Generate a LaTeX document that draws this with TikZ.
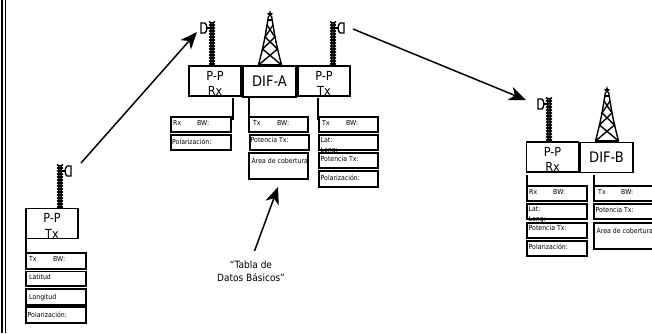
\documentclass[tikz,border=0pt]{standalone}
\usepackage{fontspec}
\setmainfont[FakeStretch=0.9]{DejaVu Sans}
\usetikzlibrary{arrows.meta}
\newcommand{\lifted}{\rule{0pt}{13.5pt}}
\tikzset{
 x=1pt,y=-1pt,
 mainbox/.style={draw,line width=1.5pt,outer sep=0pt,minimum width=52pt,minimum height=30pt,inner sep=0pt,font=\fontsize{12.5}{15.5}\selectfont,align=center},
 difbox/.style={mainbox,font=\fontsize{14.5}{16}\selectfont},
 tabbox/.style={draw,line width=1.5pt,outer sep=0pt,anchor=north west,minimum width=59pt,minimum height=15pt,inner sep=0pt},
 tabtext/.style={anchor=north west,inner sep=0pt,font=\fontsize{6.9}{7}\selectfont},
 twolines/.style={tabtext,align=left,font=\fontsize{6.9}{10}\selectfont},
 stub/.style={line width=1.5pt},
 bigarrow/.style={line width=1.5pt,-{Stealth[length=17pt,width=14pt,inset=5pt]}},
 caption/.style={font=\fontsize{10}{13.5}\selectfont,align=center},
}
\newcommand{\mastR}[3]{% x, ytop, ybottom: mast
 \fill (#1-2.2,#2) rectangle (#1+2.2,#3);
 \foreach \i in {0,...,14}{\fill (#1-2.2,#2+3*\i) circle (1.1pt);\fill (#1+2.2,#2+3*\i) circle (1.1pt);\fill[white] (#1,#2+3*\i+1.5) circle (0.4pt);}
}
\newcommand{\dishL}[2]{% x of mast, ytop: dish on left
 \draw[line width=1.4pt,fill=white] (#1-7,#2+1) -- (#1-11,#2+1) -- (#1-11,#2+11) -- (#1-7,#2+11) .. controls (#1-4.5,#2+9) and (#1-4.5,#2+3) .. (#1-7,#2+1);
 \draw[line width=1.2pt] (#1-5,#2+6) -- (#1-2,#2+6);
}
\newcommand{\dishR}[2]{%
 \draw[line width=1.4pt,fill=white] (#1+7,#2+1) -- (#1+11,#2+1) -- (#1+11,#2+11) -- (#1+7,#2+11) .. controls (#1+4.5,#2+9) and (#1+4.5,#2+3) .. (#1+7,#2+1);
 \draw[line width=1.2pt] (#1+5,#2+6) -- (#1+2,#2+6);
}
\newcommand{\towerA}[2]{% x centre, y top
 \begin{scope}[shift={(#1,#2)},line width=1.4pt]
  \draw (-1.5,5) -- (-3,14) -- (-5,26) -- (-7.5,38) -- (-11.5,54);
  \draw (1.5,5) -- (3,14) -- (5,26) -- (7.5,38) -- (11.5,54);
  \draw (-3,14) -- (5,26) -- (-7.5,38) -- (11.5,54);
  \draw (3,14) -- (-5,26) -- (7.5,38) -- (-11.5,54);
  \draw (-2,9) -- (2,9);
  \draw (-12,54) -- (12,54);
  \fill (0,-1) -- (0.9,2) -- (3.2,2.6) -- (1.3,4) -- (1.8,6.5) -- (0,5) -- (-1.8,6.5) -- (-1.3,4) -- (-3.2,2.6) -- (-0.9,2) -- cycle;
 \end{scope}
}
\begin{document}
\begin{tikzpicture}
\useasboundingbox (0,0) rectangle (652,333);
\fill[white] (0,0) rectangle (652,333);
% page border
\draw[line width=1.8pt] (2,0) -- (2,333);
\draw[line width=1pt] (5.5,0) -- (5.5,333);

% ---- left station
\mastR{60}{165}{208}
\dishR{60}{165}
\node[mainbox] (ppa) at (52,223.5) {\lifted P-P\\Tx};
\node[tabbox,minimum width=60pt,minimum height=16pt] (a1) at (26,253) {};
\node[tabbox,minimum width=60pt,minimum height=14.5pt] (a2) at (26,271.5) {};
\node[tabbox,minimum width=60pt,minimum height=16pt] (a3) at (26,289) {};
\node[tabbox,minimum width=60pt,minimum height=16pt] (a4) at (26,307) {};
\node[tabtext] at (29,256.5) {Tx};
\node[tabtext] at (53,256.5) {BW:};
\node[tabtext] at (29,274.5) {Latitud};
\node[tabtext] at (29,294.5) {Longitud};
\node[tabtext] at (27.5,311.5) {Polarización:};
\draw[stub] (ppa.south west) -- (a1.north west);

% ---- middle station
\mastR{212}{22}{65}
\dishL{212}{22}
\towerA{270}{11}
\mastR{333}{22}{65}
\dishR{333}{22}
\node[mainbox] (ppb) at (215,81) {\lifted P-P\\Rx};
\node[difbox,minimum width=53pt,minimum height=31pt] (difa) at (269.5,81.5) {DIF-A};
\node[mainbox] (ppc) at (324,81) {\lifted P-P\\Tx};

\coordinate (sb) at (233,98);
\coordinate (sbe) at (233,120);
\coordinate (sd) at (249,98);
\coordinate (sde) at (249,117);
\coordinate (sc) at (318,98);
\coordinate (sce) at (318,120);
\draw[stub] (sb) -- (sbe);
\draw[stub] (sd) -- (sde);
\draw[stub] (sc) -- (sce);

\node[tabbox,minimum width=60pt,fill=white] (b1) at (171,117) {};
\node[tabbox,minimum width=60pt] (b2) at (171,135) {};
\node[tabtext] at (173,120.5) {Rx};
\node[tabtext] at (197,120.5) {BW:};
\node[tabtext] at (172,138.5) {Polarización:};

\node[tabbox] (d1) at (249,117) {};
\node[tabbox] (d2) at (250,135) {};
\node[tabbox,minimum height=26pt] (d3) at (249,153) {};
\node[tabtext] at (253,120.5) {Tx};
\node[tabtext] at (277,120.5) {BW:};
\node[tabtext] at (250.5,137) {Potencia Tx:};
\node[tabtext] at (251.5,157) {Área de cobertura};

\node[tabbox,fill=white] (c1) at (319,117) {};
\node[tabbox] (c2) at (319,135) {};
\node[tabbox] (c3) at (319,153) {};
\node[tabbox,minimum height=16pt] (c4) at (319,171) {};
\node[tabtext] at (322,120.5) {Tx};
\node[tabtext] at (346,120.5) {BW:};
\node[twolines] at (320.5,137) {Lat:\\Long:};
\node[tabtext] at (320.5,156) {Potencia Tx:};
\node[tabtext] at (320.5,174.5) {Polarización:};

% ---- right station
\mastR{549}{98}{141}
\dishL{549}{98}
\towerA{607}{87}
\node[mainbox] (ppd) at (552.5,157) {\lifted P-P\\Rx};
\node[difbox,minimum width=53pt] (difb) at (606.5,157.5) {DIF-B};

\coordinate (se) at (527,175);
\coordinate (see) at (527,196);
\coordinate (sf) at (594,175);
\coordinate (sfe) at (594,195);
\draw[stub] (se) -- (see);
\draw[stub] (sf) -- (sfe);

\node[tabbox,minimum width=60pt,fill=white] (e1) at (527,186) {};
\node[tabbox,minimum width=60pt] (e2) at (527,204) {};
\node[tabbox,minimum width=60pt] (e3) at (527,223) {};
\node[tabbox,minimum width=60pt] (e4) at (527,241) {};
\node[tabtext] at (529,189.5) {Rx};
\node[tabtext] at (553,189.5) {BW:};
\node[twolines] at (528.5,206) {Lat:\\Long:};
\node[tabtext] at (528.5,225.5) {Potencia Tx:};
\node[tabtext] at (528.5,244) {Polarización:};

\node[tabbox,minimum width=60pt] (f1) at (594,186) {};
\node[tabbox,minimum width=60pt] (f2) at (594,204) {};
\node[tabbox,minimum width=60pt,minimum height=26pt] (f3) at (594,223) {};
\node[tabtext] at (598,189.5) {Tx};
\node[tabtext] at (621,189.5) {BW:};
\node[tabtext] at (595.5,207) {Potencia Tx:};
\node[tabtext] at (596.5,226.5) {Área de cobertura};

% ---- caption
\node[caption] (cap) at (251,271.5) {“Tabla de\\Datos Básicos”};

% ---- arrows
\coordinate (l1s) at (81,163);
\coordinate (l1e) at (197,32);
\coordinate (l2s) at (353,29);
\coordinate (l2e) at (526,100);
\coordinate (l3e) at (278,187);
\draw[bigarrow] (l1s) -- (l1e);
\draw[bigarrow] (l2s) -- (l2e);
\draw[bigarrow] (254.5,251) -- (l3e);
\end{tikzpicture}
\end{document}
